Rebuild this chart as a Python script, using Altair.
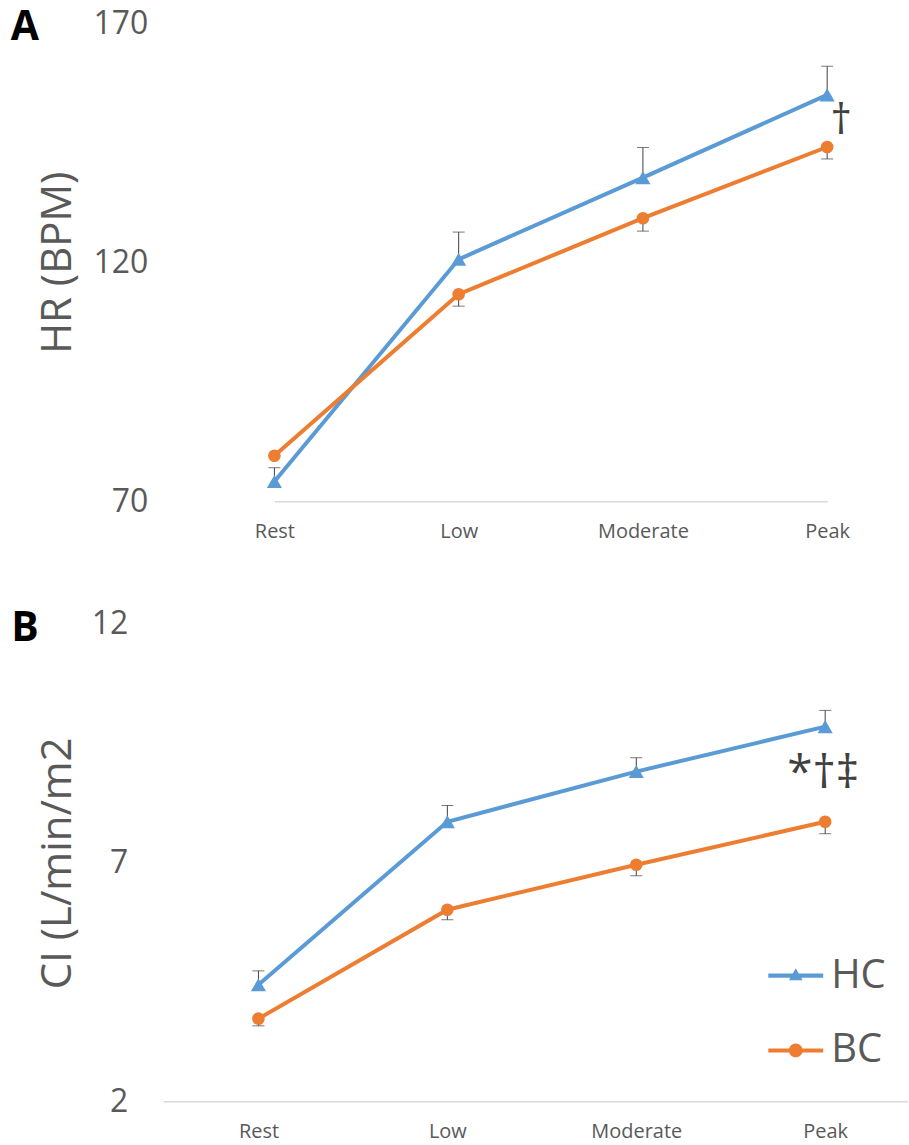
import altair as alt
import pandas as pd

stages = ["Rest", "Low", "Moderate", "Peak"]
groups = ["HC", "BC"]
colors = ["#5B9BD5", "#ED7D31"]

# Panel A: heart rate (BPM)
hr_hc = [74.1, 120.6, 137.7, 155.0]
hr_hc_err = [77.0, 126.3, 144.0, 161.0]
hr_bc = [79.5, 113.3, 129.2, 144.1]
hr_bc_err = [79.5, 110.8, 126.5, 141.6]
hr_ticks = [70, 120, 170]

# Panel B: cardiac index (L/min/m2)
ci_hc = [4.45, 7.86, 8.91, 9.85]
ci_hc_err = [4.74, 8.20, 9.20, 10.19]
ci_bc = [3.74, 6.02, 6.96, 7.86]
ci_bc_err = [3.59, 5.81, 6.73, 7.61]
ci_ticks = [2, 7, 12]

note_a_stage = ["Peak"]
note_a_value = [149.5]
note_a_text = ["†"]
note_b_stage = ["Peak"]
note_b_value = [8.85]
note_b_text = ["*†‡"]

FONT = "Open Sans"
GREY = "#595959"
W, H = 727, 479

HC_PATH = ("M-1,-0.075H1V0.075H-1Z "
           "M-0.25,0.17L0,-0.27L0.25,0.17Z")
BC_PATH = ("M-1,-0.075H1V0.075H-1Z "
           "M-0.25,0A0.25,0.25,0,1,1,0.25,0A0.25,0.25,0,1,1,-0.25,0Z")


def make_df(hc, hc_err, bc, bc_err):
    rows = []
    for i, s in enumerate(stages):
        rows.append({"stage": s, "group": "HC", "value": hc[i], "err": hc_err[i]})
        rows.append({"stage": s, "group": "BC", "value": bc[i], "err": bc_err[i]})
    return pd.DataFrame(rows)


def panel(df, ydomain, yticks, ytitle, xrange, label_pad, letter, notes,
          note_dx, note_size, legend=False, rule_left=0):
    base = alt.Chart(df)
    x = alt.X("stage:N", sort=stages,
              scale=alt.Scale(type="point", domain=stages, range=xrange, padding=0),
              axis=alt.Axis(title=None, labelAngle=0, labelFontSize=20, labelPadding=20,
                            ticks=False, tickSize=0, domain=(rule_left == 0),
                            domainColor="#D9D9D9", domainWidth=1.5))
    y = alt.Y("value:Q", scale=alt.Scale(domain=ydomain, nice=False, zero=False),
              axis=alt.Axis(values=yticks, title=ytitle, grid=False, domain=False,
                            ticks=False, tickSize=0, labelFontSize=32, labelPadding=label_pad,
                            titleFontSize=42, titleFontWeight="normal", titleX=-112,
                            titleY=H / 2, titleBaseline="alphabetic", titleAngle=270))
    ycont = alt.Y("value:Q", scale=alt.Scale(domain=ydomain, nice=False, zero=False))
    err_rule = base.mark_rule(color="#404040", strokeWidth=1).encode(
        x=x, y=y, y2="err:Q")
    err_tick = base.mark_tick(color="#404040", size=12, thickness=1, orient="horizontal").encode(
        x=x, y=alt.Y("err:Q", scale=alt.Scale(domain=ydomain, nice=False, zero=False)))
    hc = base.transform_filter(alt.datum.group == "HC")
    bc = base.transform_filter(alt.datum.group == "BC")
    line_hc = hc.mark_line(strokeWidth=4, color=colors[0]).encode(x=x, y=ycont)
    line_bc = bc.mark_line(strokeWidth=4, color=colors[1]).encode(x=x, y=ycont)
    pts_hc = hc.mark_point(filled=True, shape="triangle-up", size=230, opacity=1,
                           color=colors[0]).encode(x=x, y=ycont)
    pts_bc = bc.mark_point(filled=True, shape="circle", size=160, opacity=1,
                           color=colors[1]).encode(x=x, y=ycont)
    note = alt.Chart(notes).mark_text(
        dx=note_dx, font=FONT, fontSize=note_size, color="#404040", baseline="middle").encode(
        x=x, y=ycont, text="text:N")
    letter_layer = alt.Chart(pd.DataFrame({"t": [letter]})).mark_text(
        font=FONT, fontWeight="bold", fontSize=41, color="black", align="center",
        baseline="middle").encode(text="t:N", x=alt.value(-158), y=alt.value(5))
    layers = [err_rule, err_tick, line_hc, line_bc, pts_hc, pts_bc, note, letter_layer]
    if rule_left:
        dom = alt.Chart(pd.DataFrame({"t": [0]})).mark_rule(
            color="#D9D9D9", strokeWidth=1.5).encode(
            x=alt.value(rule_left), x2=alt.value(W), y=alt.value(H))
        layers.insert(0, dom)
    if legend:
        leg = alt.Legend(title=None, orient="none", legendX=587, legendY=325,
                         symbolSize=3025, symbolStrokeWidth=0, symbolOpacity=1,
                         labelFontSize=40, labelFont=FONT, labelColor=GREY,
                         labelOffset=8, rowPadding=27, padding=0, direction="vertical")
        leg_layer = base.mark_point(filled=True, opacity=0).encode(
            x=x, y=ycont,
            shape=alt.Shape("group:N", scale=alt.Scale(domain=groups, range=[HC_PATH, BC_PATH]),
                            legend=leg),
            color=alt.Color("group:N", scale=alt.Scale(domain=groups, range=colors), legend=leg))
        layers.append(leg_layer)
    return alt.layer(*layers).properties(width=W, height=H)


df_a = make_df(hr_hc, hr_hc_err, hr_bc, hr_bc_err)
df_b = make_df(ci_hc, ci_hc_err, ci_bc, ci_bc_err)
notes_a = pd.DataFrame({"stage": note_a_stage, "value": note_a_value, "text": note_a_text})
notes_b = pd.DataFrame({"stage": note_b_stage, "value": note_b_value, "text": note_b_text})

pa = panel(df_a, [70, 170], hr_ticks, "HR (BPM)", [92, 646], 35, "A", notes_a, 14, 42)
pb = panel(df_b, [2, 12], ci_ticks, "CI (L/min/m2", [76, 644], 55, "B", notes_b, -2, 46,
           legend=True, rule_left=-19)

chart = alt.vconcat(pa, pb, spacing=67).resolve_legend(
    color="independent", shape="independent"
).properties(
    padding={"left": 10, "top": 6, "right": 0, "bottom": 0}
).configure_view(stroke=None).configure_axis(
    labelFont=FONT, titleFont=FONT, labelColor=GREY, titleColor=GREY
)

chart.save("out.html", embed_options={"renderer": "svg", "actions": False})
